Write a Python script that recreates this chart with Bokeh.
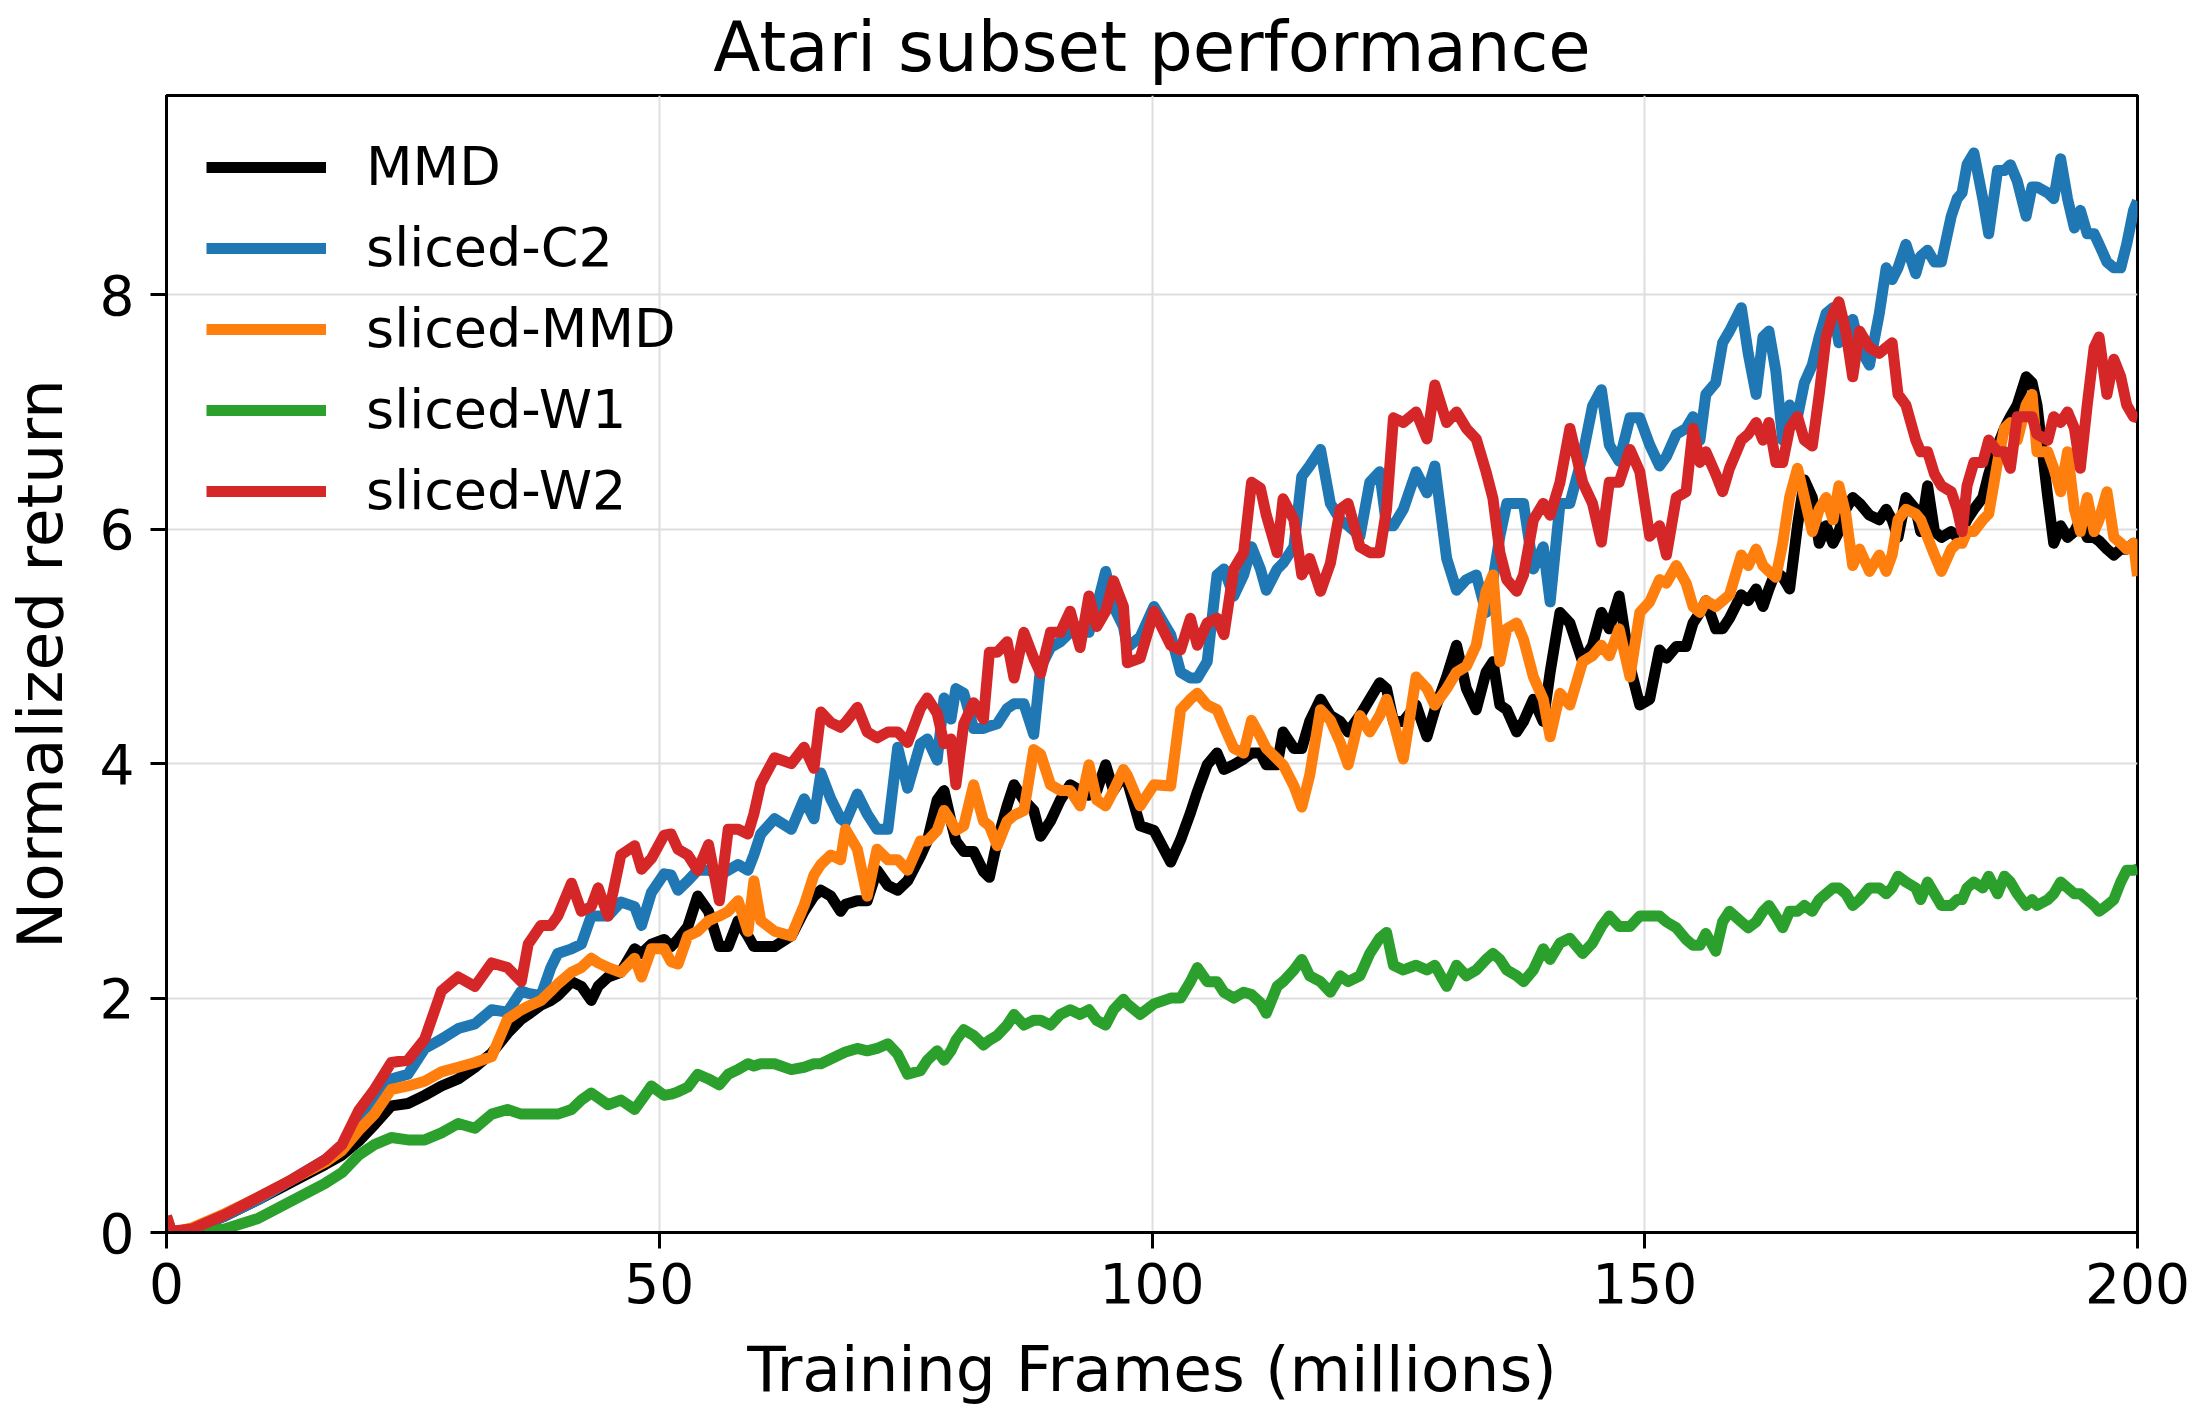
from bokeh.plotting import figure
from bokeh.models import Range1d, FixedTicker, Legend, LegendItem
from bokeh.embed import file_html
from bokeh.resources import INLINE

# ---- data ----
frames = [0.0, 0.5, 2.6, 5.9, 9.3, 12.7, 16.1, 17.8, 19.5, 21.1, 22.8, 24.5, 26.2, 27.9, 29.6, 31.3, 33.0, 34.6, 36.0, 36.7,
          38.0, 39.0, 39.7, 41.1, 42.1, 43.1, 43.8, 44.8, 46.1, 47.5, 48.2, 49.2, 50.5, 51.2, 51.9, 52.9, 53.9, 55.0, 56.1, 57.0,
          58.0, 59.0, 59.6, 60.3, 61.7, 63.4, 64.7, 65.7, 66.4, 67.4, 68.4, 68.9, 70.1, 71.1, 72.1, 73.2, 74.2, 75.2, 76.5, 77.2,
          78.2, 78.9, 79.6, 80.1, 80.9, 81.9, 82.9, 83.5, 84.3, 85.3, 86.0, 87.0, 88.0, 88.7, 89.7, 90.7, 91.7, 92.7, 93.6, 94.4,
          95.3, 96.1, 97.1, 97.5, 98.8, 100.2, 101.9, 102.9, 103.9, 104.6, 105.6, 106.6, 107.3, 108.3, 109.3, 110.1, 111.0, 111.6, 112.7, 113.3,
          114.4, 115.2, 116.0, 117.1, 118.1, 119.1, 119.9, 121.1, 122.1, 123.1, 123.8, 124.5, 125.5, 126.8, 127.9, 128.7, 129.9, 130.9, 131.9, 132.9,
          133.9, 134.6, 135.3, 136.0, 137.0, 137.7, 138.7, 139.7, 140.4, 141.4, 142.4, 143.7, 144.7, 145.6, 146.4, 147.4, 148.5, 149.5, 150.5, 151.5,
          152.2, 153.2, 154.2, 154.9, 155.6, 156.2, 157.2, 157.9, 158.6, 159.8, 160.5, 161.3, 162.0, 162.6, 163.3, 164.0, 164.7, 165.5, 166.2, 167.0,
          167.7, 168.4, 169.1, 169.7, 170.4, 171.1, 171.8, 172.8, 173.8, 174.5, 175.1, 175.7, 176.5, 177.5, 178.0, 178.7, 179.4, 180.1, 181.1, 181.7,
          182.2, 182.7, 183.4, 184.3, 184.9, 185.8, 186.5, 187.1, 187.8, 188.7, 189.3, 189.8, 190.9, 191.5, 192.2, 192.9, 193.6, 194.2, 194.9, 195.6,
          196.1, 196.9, 197.6, 198.3, 198.9, 199.6, 200.0]

mmd = [0.05, 0.00, 0.03, 0.14, 0.28, 0.43, 0.58, 0.66, 0.78, 0.92,
       1.08, 1.10, 1.17, 1.25, 1.31, 1.41, 1.53, 1.70, 1.82, 1.86,
       1.94, 1.98, 2.02, 2.14, 2.10, 1.98, 2.10, 2.18, 2.22, 2.42,
       2.38, 2.46, 2.50, 2.44, 2.50, 2.61, 2.87, 2.74, 2.44, 2.44,
       2.66, 2.53, 2.44, 2.44, 2.44, 2.53, 2.74, 2.87, 2.92, 2.87,
       2.74, 2.80, 2.83, 2.83, 3.09, 2.96, 2.92, 3.00, 3.21, 3.34,
       3.69, 3.77, 3.51, 3.34, 3.25, 3.25, 3.08, 3.03, 3.34, 3.64,
       3.82, 3.69, 3.60, 3.38, 3.51, 3.69, 3.82, 3.77, 3.73, 3.77,
       3.99, 3.77, 3.90, 3.85, 3.47, 3.43, 3.16, 3.35, 3.58, 3.76,
       3.99, 4.09, 3.95, 3.99, 4.04, 4.09, 4.09, 3.99, 3.99, 4.27,
       4.13, 4.13, 4.36, 4.55, 4.41, 4.36, 4.27, 4.41, 4.55, 4.69,
       4.64, 4.36, 4.36, 4.50, 4.23, 4.46, 4.74, 5.01, 4.64, 4.46,
       4.78, 4.87, 4.50, 4.46, 4.27, 4.36, 4.55, 4.36, 4.78, 5.29,
       5.20, 4.87, 5.01, 5.29, 5.15, 5.43, 4.83, 4.50, 4.55, 4.97,
       4.90, 5.00, 5.00, 5.20, 5.29, 5.39, 5.15, 5.15, 5.24, 5.44,
       5.39, 5.49, 5.34, 5.49, 5.64, 5.59, 5.49, 6.03, 6.42, 6.27,
       5.88, 6.03, 5.88, 5.98, 6.17, 6.27, 6.22, 6.12, 6.08, 6.17,
       6.08, 5.93, 6.27, 6.17, 5.98, 6.37, 5.98, 5.93, 5.98, 5.93,
       6.00, 6.08, 6.17, 6.27, 6.47, 6.71, 6.86, 6.96, 7.06, 7.30,
       7.25, 7.06, 6.27, 5.88, 6.03, 5.93, 5.98, 6.08, 5.93, 5.93,
       5.90, 5.83, 5.78, 5.83, 5.83, 5.88, 5.70]

sliced_c2 = [0.00, 0.00, 0.03, 0.14, 0.28, 0.45, 0.62, 0.72, 0.95, 1.10,
             1.31, 1.35, 1.57, 1.65, 1.74, 1.78, 1.90, 1.88, 2.06, 2.04,
             2.02, 2.26, 2.38, 2.42, 2.46, 2.70, 2.70, 2.70, 2.82, 2.78,
             2.62, 2.90, 3.06, 3.05, 2.92, 3.00, 3.09, 3.09, 3.05, 3.09,
             3.14, 3.09, 3.22, 3.40, 3.53, 3.44, 3.70, 3.53, 3.92, 3.70,
             3.53, 3.50, 3.74, 3.57, 3.44, 3.44, 4.14, 3.79, 4.17, 4.21,
             4.03, 4.56, 4.38, 4.64, 4.60, 4.30, 4.30, 4.32, 4.34, 4.47,
             4.51, 4.51, 4.25, 4.82, 4.99, 5.04, 5.12, 5.17, 5.12, 5.34,
             5.64, 5.34, 5.17, 4.99, 5.08, 5.34, 5.10, 4.78, 4.73, 4.73,
             4.87, 5.61, 5.66, 5.43, 5.61, 5.85, 5.66, 5.48, 5.66, 5.71,
             5.85, 6.45, 6.54, 6.68, 6.22, 6.08, 6.03, 5.94, 6.40, 6.49,
             6.03, 6.03, 6.17, 6.49, 6.31, 6.54, 5.75, 5.48, 5.57, 5.61,
             5.29, 5.57, 5.94, 6.22, 6.22, 6.22, 5.66, 5.85, 5.38, 6.22,
             6.22, 6.63, 7.05, 7.19, 6.72, 6.58, 6.95, 6.95, 6.72, 6.54,
             6.62, 6.81, 6.86, 6.96, 6.76, 7.15, 7.25, 7.59, 7.69, 7.89,
             7.50, 7.15, 7.64, 7.69, 7.35, 6.76, 7.06, 6.96, 7.25, 7.40,
             7.64, 7.84, 7.89, 7.59, 7.74, 7.79, 7.55, 7.40, 7.84, 8.23,
             8.13, 8.23, 8.43, 8.18, 8.33, 8.38, 8.28, 8.28, 8.67, 8.82,
             8.87, 9.11, 9.21, 8.82, 8.52, 9.06, 9.06, 9.11, 8.97, 8.67,
             8.92, 8.92, 8.87, 8.82, 9.16, 8.82, 8.57, 8.72, 8.52, 8.52,
             8.43, 8.28, 8.23, 8.23, 8.43, 8.72, 8.80]

sliced_mmd = [0.00, 0.00, 0.04, 0.16, 0.30, 0.45, 0.60, 0.70, 0.87, 1.01,
              1.22, 1.25, 1.29, 1.37, 1.41, 1.45, 1.50, 1.82, 1.90, 1.93,
              1.98, 2.06, 2.12, 2.22, 2.26, 2.34, 2.30, 2.26, 2.22, 2.34,
              2.18, 2.42, 2.42, 2.31, 2.29, 2.53, 2.57, 2.66, 2.70, 2.74,
              2.83, 2.57, 3.00, 2.66, 2.57, 2.53, 2.79, 3.05, 3.14, 3.22,
              3.18, 3.44, 3.27, 2.87, 3.27, 3.18, 3.18, 3.09, 3.34, 3.34,
              3.43, 3.60, 3.51, 3.43, 3.47, 3.82, 3.51, 3.47, 3.30, 3.51,
              3.56, 3.60, 4.12, 4.08, 3.82, 3.77, 3.77, 3.64, 3.99, 3.69,
              3.64, 3.77, 3.95, 3.90, 3.64, 3.82, 3.81, 4.46, 4.55, 4.60,
              4.50, 4.46, 4.32, 4.13, 4.09, 4.37, 4.23, 4.13, 4.04, 3.99,
              3.81, 3.63, 3.90, 4.46, 4.37, 4.18, 3.99, 4.41, 4.27, 4.41,
              4.55, 4.36, 4.04, 4.74, 4.64, 4.50, 4.64, 4.78, 4.83, 5.01,
              5.47, 5.61, 4.87, 5.15, 5.20, 5.06, 4.74, 4.55, 4.23, 4.60,
              4.50, 4.87, 4.92, 5.01, 4.92, 5.15, 4.74, 5.29, 5.38, 5.57,
              5.54, 5.69, 5.54, 5.34, 5.29, 5.39, 5.34, 5.39, 5.44, 5.78,
              5.69, 5.83, 5.69, 5.64, 5.59, 5.88, 6.27, 6.52, 6.27, 5.98,
              6.17, 6.27, 6.08, 6.37, 6.13, 5.69, 5.83, 5.64, 5.78, 5.64,
              5.78, 6.08, 6.17, 6.13, 6.08, 5.93, 5.78, 5.64, 5.83, 5.88,
              5.88, 5.98, 5.98, 6.08, 6.13, 6.57, 6.86, 6.91, 6.76, 7.06,
              7.15, 6.66, 6.66, 6.52, 6.32, 6.66, 6.17, 5.98, 6.27, 5.98,
              6.08, 6.32, 5.93, 5.88, 5.83, 5.88, 5.60]

sliced_w1 = [0.14, 0.01, 0.00, 0.03, 0.12, 0.27, 0.42, 0.51, 0.66, 0.75,
             0.81, 0.79, 0.79, 0.85, 0.93, 0.89, 1.01, 1.05, 1.01, 1.01,
             1.01, 1.01, 1.01, 1.05, 1.13, 1.19, 1.15, 1.09, 1.13, 1.05,
             1.13, 1.25, 1.17, 1.18, 1.20, 1.24, 1.35, 1.31, 1.26, 1.35,
             1.39, 1.44, 1.42, 1.44, 1.44, 1.39, 1.41, 1.44, 1.44, 1.48,
             1.52, 1.54, 1.57, 1.55, 1.57, 1.61, 1.52, 1.35, 1.38, 1.47,
             1.55, 1.47, 1.55, 1.64, 1.73, 1.68, 1.60, 1.64, 1.68, 1.77,
             1.86, 1.77, 1.81, 1.81, 1.77, 1.86, 1.90, 1.86, 1.90, 1.81,
             1.77, 1.90, 1.99, 1.95, 1.86, 1.95, 2.00, 2.00, 2.14, 2.26,
             2.14, 2.14, 2.05, 2.00, 2.05, 2.03, 1.96, 1.87, 2.10, 2.14,
             2.24, 2.33, 2.19, 2.14, 2.05, 2.19, 2.14, 2.19, 2.38, 2.51,
             2.56, 2.28, 2.24, 2.28, 2.24, 2.28, 2.10, 2.28, 2.19, 2.24,
             2.33, 2.38, 2.33, 2.24, 2.19, 2.14, 2.24, 2.42, 2.33, 2.47,
             2.51, 2.38, 2.47, 2.61, 2.70, 2.61, 2.61, 2.70, 2.70, 2.70,
             2.65, 2.60, 2.50, 2.45, 2.45, 2.55, 2.40, 2.65, 2.74, 2.65,
             2.60, 2.65, 2.74, 2.79, 2.70, 2.60, 2.74, 2.74, 2.79, 2.74,
             2.84, 2.89, 2.94, 2.94, 2.89, 2.79, 2.84, 2.94, 2.94, 2.89,
             2.94, 3.04, 2.99, 2.94, 2.84, 2.99, 2.89, 2.79, 2.79, 2.84,
             2.84, 2.94, 2.99, 2.94, 3.04, 2.89, 3.04, 2.99, 2.89, 2.79,
             2.84, 2.79, 2.84, 2.89, 2.99, 2.94, 2.89, 2.89, 2.84, 2.79,
             2.74, 2.79, 2.84, 2.99, 3.09, 3.09, 3.10]

sliced_w2 = [0.14, 0.01, 0.03, 0.15, 0.30, 0.45, 0.62, 0.75, 1.04, 1.22,
             1.45, 1.47, 1.65, 2.06, 2.18, 2.10, 2.30, 2.26, 2.14, 2.46,
             2.62, 2.62, 2.70, 2.98, 2.74, 2.78, 2.94, 2.70, 3.22, 3.30,
             3.10, 3.19, 3.39, 3.40, 3.27, 3.22, 3.09, 3.31, 2.83, 3.44,
             3.44, 3.40, 3.57, 3.83, 4.05, 4.00, 4.14, 3.96, 4.44, 4.35,
             4.31, 4.35, 4.48, 4.27, 4.22, 4.27, 4.27, 4.18, 4.47, 4.56,
             4.43, 4.17, 4.21, 3.82, 4.34, 4.52, 4.38, 4.95, 4.95, 5.04,
             4.73, 5.12, 4.90, 4.77, 5.12, 5.12, 5.30, 4.99, 5.43, 5.17,
             5.30, 5.56, 5.34, 4.86, 4.90, 5.30, 5.01, 4.97, 5.24, 5.01,
             5.20, 5.24, 5.10, 5.66, 5.80, 6.40, 6.35, 6.12, 5.80, 6.26,
             6.08, 5.61, 5.75, 5.47, 5.71, 6.17, 6.22, 5.85, 5.80, 5.80,
             6.17, 6.95, 6.91, 7.00, 6.77, 7.23, 6.91, 7.00, 6.86, 6.77,
             6.49, 6.26, 5.80, 5.57, 5.47, 5.61, 6.08, 6.22, 6.12, 6.40,
             6.86, 6.40, 6.22, 5.89, 6.40, 6.40, 6.68, 6.49, 5.94, 6.03,
             5.78, 6.27, 6.32, 6.86, 6.57, 6.66, 6.47, 6.32, 6.52, 6.76,
             6.81, 6.91, 6.76, 6.91, 6.57, 6.57, 6.86, 6.96, 6.76, 6.71,
             7.15, 7.64, 7.84, 7.94, 7.69, 7.30, 7.69, 7.55, 7.50, 7.55,
             7.59, 7.15, 7.06, 6.76, 6.66, 6.66, 6.47, 6.37, 6.32, 6.17,
             5.98, 6.37, 6.57, 6.57, 6.76, 6.66, 6.66, 6.52, 6.96, 6.96,
             6.96, 6.81, 6.76, 6.96, 6.91, 7.00, 6.86, 6.52, 7.06, 7.55,
             7.64, 7.15, 7.45, 7.30, 7.06, 6.96, 6.95]

series_names = ["MMD", "sliced-C2", "sliced-MMD", "sliced-W1", "sliced-W2"]
series_values = [mmd, sliced_c2, sliced_mmd, sliced_w1, sliced_w2]
series_colors = ["#000000", "#1f77b4", "#ff7f0e", "#2ca02c", "#d62728"]
x_ticks = [0, 50, 100, 150, 200]
y_ticks = [0, 2, 4, 6, 8]
title_text = "Atari subset performance"
x_label = "Training Frames (millions)"
y_label = "Normalized return"

for name, vals in zip(series_names, series_values):
    if len(vals) != len(frames):
        raise ValueError(f"{name}: {len(vals)} vs {len(frames)}")

FONT = "DejaVu Sans"

p = figure(width=2200, height=1413, output_backend="svg", toolbar_location=None,
           x_range=Range1d(0, 200), y_range=Range1d(0, 9.70),
           min_border_left=163, min_border_right=63, min_border_top=95, min_border_bottom=181)
p.background_fill_color = "white"
p.border_fill_color = "white"
p.outline_line_color = "black"
p.outline_line_width = 3
p.outline_line_alpha = 1.0

p.title.text = title_text
p.title.align = "center"
p.title.vertical_align = "top"
p.title.text_font = FONT
p.title.text_font_size = "69px"
p.title.text_font_style = "normal"
p.title.text_color = "black"
p.title.standoff = 13

for ax in (p.xaxis[0], p.yaxis[0]):
    ax.axis_line_width = 3
    ax.axis_line_color = "black"
    ax.major_tick_line_width = 3
    ax.major_tick_line_color = "black"
    ax.major_tick_out = 16
    ax.major_tick_in = 0
    ax.minor_tick_out = 0
    ax.minor_tick_in = 0
    ax.major_label_text_font = FONT
    ax.major_label_text_font_size = "55px"
    ax.major_label_text_color = "black"
    ax.axis_label_text_font = FONT
    ax.axis_label_text_font_size = "63px"
    ax.axis_label_text_font_style = "normal"
    ax.axis_label_text_color = "black"

p.xaxis.ticker = FixedTicker(ticks=x_ticks)
p.yaxis.ticker = FixedTicker(ticks=y_ticks)
p.xaxis.axis_label = x_label
p.yaxis.axis_label = y_label
p.xaxis.major_label_standoff = 14
p.yaxis.major_label_standoff = 16
p.xaxis.axis_label_standoff = 27
p.yaxis.axis_label_standoff = 20

p.xgrid.ticker = FixedTicker(ticks=x_ticks)
p.ygrid.ticker = FixedTicker(ticks=y_ticks)
for g in (p.xgrid[0], p.ygrid[0]):
    g.grid_line_color = "#dedede"
    g.grid_line_width = 2

items = []
for name, vals, col in zip(series_names, series_values, series_colors):
    r = p.line(frames, vals, line_color=col, line_width=11, line_join="round")
    items.append(LegendItem(label=name, renderers=[r]))

legend = Legend(items=items, location="top_left")
legend.label_text_font = FONT
legend.label_text_font_size = "54px"
legend.label_text_color = "black"
legend.glyph_width = 120
legend.glyph_height = 60
legend.label_height = 60
legend.spacing = 18
legend.label_standoff = 40
legend.padding = 20
legend.margin = 20
legend.background_fill_alpha = 0
legend.border_line_alpha = 0
p.add_layout(legend)

open("out.html", "w").write(file_html(p, INLINE))
